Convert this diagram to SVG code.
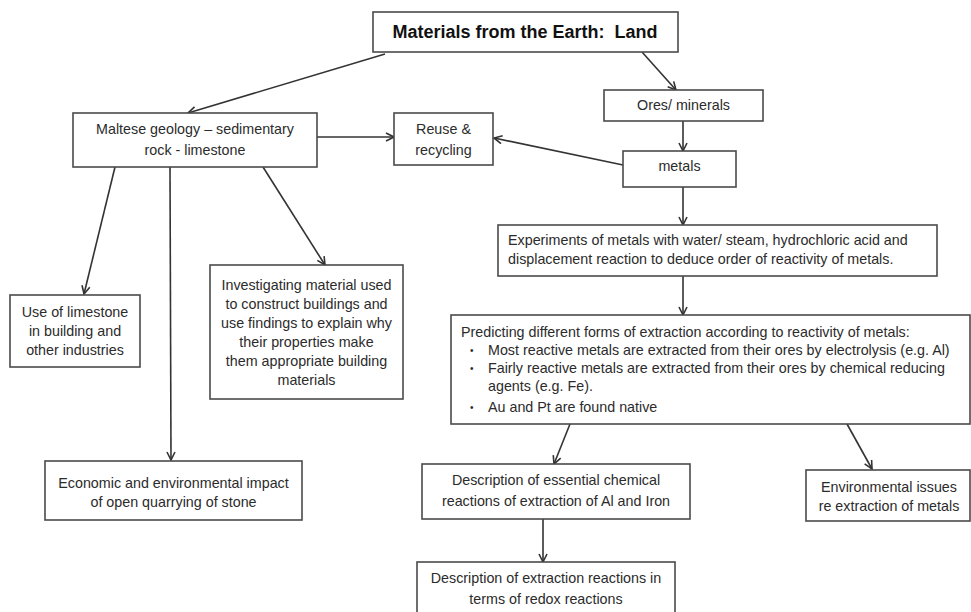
<svg xmlns="http://www.w3.org/2000/svg" width="971" height="612" viewBox="0 0 971 612">
<defs>
<marker id="ah" viewBox="0 0 10 10" refX="9" refY="5" markerWidth="10" markerHeight="10" markerUnits="userSpaceOnUse" orient="auto">
<path d="M1,1 L9,5 L1,9" fill="none" stroke="#333" stroke-width="1.6"/>
</marker>
<style>
rect{fill:#fff;stroke:#4a4a4a;stroke-width:1.6}
text{font-family:"Liberation Sans",Arial,sans-serif;font-size:14.3px;fill:#2b2b2b}
.c{text-anchor:middle}
.t{font-size:18px;font-weight:bold;fill:#111}
.b{font-size:10px}
#connectors line{stroke:#333;stroke-width:1.6;marker-end:url(#ah)}
</style>
</defs>
<rect x="0" y="0" width="971" height="612" style="fill:#fff;stroke:none"/>
<g id="connectors">
<line x1="385" y1="54" x2="188" y2="113"/>
<line x1="642" y1="52" x2="676" y2="90"/>
<line x1="317" y1="137" x2="394" y2="137"/>
<line x1="623" y1="165" x2="494" y2="138"/>
<line x1="683" y1="121" x2="683" y2="151"/>
<line x1="683" y1="187" x2="683" y2="225"/>
<line x1="683" y1="276" x2="683" y2="315"/>
<line x1="115" y1="167" x2="84" y2="294"/>
<line x1="170" y1="167" x2="171" y2="460"/>
<line x1="263" y1="167" x2="325" y2="265"/>
<line x1="570" y1="424" x2="554" y2="464"/>
<line x1="847" y1="424" x2="872" y2="469"/>
<line x1="543" y1="519" x2="543" y2="562"/>
</g>
<g id="title">
<rect x="373" y="12" width="305" height="40"/>
<text class="c t" x="525" y="38">Materials from the Earth:&#160; Land</text>
</g>
<g id="maltese">
<rect x="73" y="113" width="244" height="54"/>
<text class="c" x="195" y="134">Maltese geology – sedimentary</text>
<text class="c" x="195" y="155">rock - limestone</text>
</g>
<g id="reuse">
<rect x="394" y="113" width="99" height="52"/>
<text class="c" x="443.5" y="134">Reuse &amp;</text>
<text class="c" x="443.5" y="155">recycling</text>
</g>
<g id="ores">
<rect x="604" y="90" width="159" height="31"/>
<text class="c" x="683.5" y="110">Ores/ minerals</text>
</g>
<g id="metals">
<rect x="623" y="151" width="113" height="36"/>
<text class="c" x="679.5" y="171">metals</text>
</g>
<g id="experiments">
<rect x="498" y="225" width="439" height="51"/>
<text x="508" y="245">Experiments of metals with water/ steam, hydrochloric acid and</text>
<text x="508" y="264">displacement reaction to deduce order of reactivity of metals.</text>
</g>
<g id="predicting">
<rect x="451" y="315" width="519" height="109"/>
<text x="461" y="337">Predicting different forms of extraction according to reactivity of metals:</text>
<text class="b" x="470" y="354">•</text><text x="488" y="355">Most reactive metals are extracted from their ores by electrolysis (e.g. Al)</text>
<text class="b" x="470" y="372">•</text><text x="488" y="373">Fairly reactive metals are extracted from their ores by chemical reducing</text>
<text x="488" y="391">agents (e.g. Fe).</text>
<text class="b" x="470" y="411">•</text><text x="488" y="412">Au and Pt are found native</text>
</g>
<g id="use-limestone">
<rect x="10" y="295" width="130" height="72"/>
<text class="c" x="75" y="317">Use of limestone</text>
<text class="c" x="75" y="336">in building and</text>
<text class="c" x="75" y="355">other industries</text>
</g>
<g id="investigating">
<rect x="210" y="265" width="193" height="134"/>
<text class="c" x="306.5" y="290">Investigating material used</text>
<text class="c" x="306.5" y="309">to construct buildings and</text>
<text class="c" x="306.5" y="328">use findings to explain why</text>
<text class="c" x="306.5" y="347">their properties make</text>
<text class="c" x="306.5" y="366">them appropriate building</text>
<text class="c" x="306.5" y="385">materials</text>
</g>
<g id="economic">
<rect x="45" y="461" width="257" height="59"/>
<text class="c" x="173.5" y="488">Economic and environmental impact</text>
<text class="c" x="173.5" y="507">of open quarrying of stone</text>
</g>
<g id="description-essential">
<rect x="422" y="464" width="268" height="55"/>
<text class="c" x="556" y="485">Description of essential chemical</text>
<text class="c" x="556" y="506">reactions of extraction of Al and Iron</text>
</g>
<g id="description-redox">
<rect x="417" y="562" width="258" height="60"/>
<text class="c" x="546" y="583">Description of extraction reactions in</text>
<text class="c" x="546" y="604">terms of redox reactions</text>
</g>
<g id="environmental">
<rect x="806" y="470" width="164" height="51"/>
<text class="c" x="889" y="492">Environmental issues</text>
<text class="c" x="889" y="511">re extraction of metals</text>
</g>
</svg>
